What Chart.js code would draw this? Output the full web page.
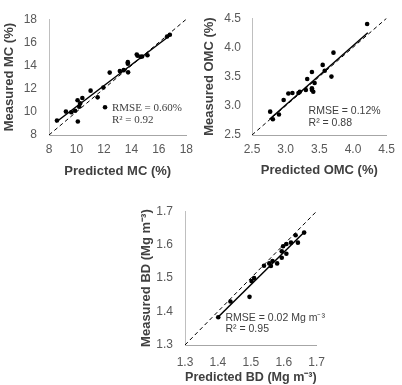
<!DOCTYPE html>
<html>
<head>
<meta charset="utf-8">
<script src="https://cdn.jsdelivr.net/npm/chart.js@4"></script>
<style>
  body { margin: 0; background: #fff; }
  #wrap { position: relative; width: 402px; height: 385px; }
  canvas { position: absolute; }
</style>
</head>
<body>
<div id="wrap">
  <canvas id="mcChart" width="200" height="190" style="left:0;top:0"></canvas>
  <canvas id="omcChart" width="202" height="190" style="left:200px;top:0"></canvas>
  <canvas id="bdChart" width="200" height="193" style="left:135px;top:192px"></canvas>
</div>
<script>
// Moisture content (MC)
const mcPred = [8.58, 9.23, 9.62, 9.9, 10.08, 10.1, 10.2, 10.27, 10.43, 11.03, 11.54, 11.96, 12.08, 12.42, 13.16, 13.44, 13.74, 13.74, 13.76, 14.39, 14.45, 14.67, 14.78, 15.17, 16.6, 16.8];
const mcMeas = [9.25, 10.02, 9.97, 10.1, 11.0, 9.17, 10.45, 10.73, 11.2, 11.83, 11.25, 12.1, 10.4, 13.39, 13.52, 13.6, 14.29, 14.15, 13.41, 14.95, 14.85, 14.75, 14.78, 14.89, 16.5, 16.66];
const mcTrendX = [8.5, 16.9];
const mcTrendY = [9.1, 16.68];
const mcTicks = [8, 10, 12, 14, 16, 18];

// Organic matter content (OMC)
const omcPred = [2.77, 2.81, 2.90, 2.97, 3.04, 3.10, 3.19, 3.21, 3.30, 3.32, 3.39, 3.39, 3.39, 3.41, 3.43, 3.55, 3.58, 3.68, 3.71, 4.21];
const omcMeas = [2.90, 2.77, 2.85, 3.10, 3.21, 3.22, 3.22, 3.24, 3.27, 3.46, 3.58, 3.30, 3.27, 3.24, 3.39, 3.70, 3.60, 3.50, 3.91, 4.40];
const omcTrendX = [2.76, 4.22];
const omcTrendY = [2.77, 4.25];
const omcTicks = [2.5, 3.0, 3.5, 4.0, 4.5];

// Bulk density (BD)
const bdPred = [1.401, 1.438, 1.496, 1.502, 1.51, 1.54, 1.556, 1.561, 1.566, 1.58, 1.594, 1.594, 1.598, 1.608, 1.608, 1.622, 1.636, 1.643, 1.662];
const bdMeas = [1.383, 1.43, 1.444, 1.491, 1.50, 1.537, 1.544, 1.536, 1.551, 1.544, 1.561, 1.58, 1.595, 1.573, 1.602, 1.606, 1.628, 1.606, 1.636];
const bdTrendX = [1.40, 1.665];
const bdTrendY = [1.383, 1.64];
const bdTicks = [1.3, 1.4, 1.5, 1.6, 1.7];

Chart.defaults.font.family = "'Liberation Sans', Arial, sans-serif";
Chart.defaults.color = '#595959';

function toPoints(xs, ys) {
    return xs.map(function(x, i) { return { x: x, y: ys[i] }; });
}

// draws the RMSE / R2 text at data coordinates
const statText = {
    id: 'statText',
    afterDatasetsDraw: function(chart, args, opts) {
        const ctx = chart.ctx;
        const xs = chart.scales.x, ys = chart.scales.y;
        ctx.save();
        ctx.font = opts.font;
        ctx.fillStyle = opts.color;
        ctx.textBaseline = 'middle';
        opts.lines.forEach(function(l) {
            ctx.fillText(l.text, xs.getPixelForValue(l.x), ys.getPixelForValue(l.y));
        });
        ctx.restore();
    }
};

function makePlot(id, o) {
    const lo = o.ticks[0], hi = o.ticks[o.ticks.length - 1];
    const ctx = document.getElementById(id).getContext('2d');
    return new Chart(ctx, {
        type: 'scatter',
        data: {
            datasets: [{
                data: toPoints(o.pred, o.meas),
                pointRadius: 2.3,
                pointBackgroundColor: '#000',
                pointBorderWidth: 0,
                showLine: false
            }, {
                data: toPoints(o.trendX, o.trendY),
                showLine: true,
                pointRadius: 0,
                borderColor: '#000',
                borderWidth: 1.5
            }, {
                data: toPoints([lo, hi], [lo, hi]),
                showLine: true,
                pointRadius: 0,
                borderColor: '#000',
                borderWidth: 1,
                borderDash: [4, 3]
            }]
        },
        options: {
            responsive: false,
            animation: false,
            devicePixelRatio: 1,
            layout: { padding: o.padding },
            plugins: {
                legend: { display: false },
                tooltip: { enabled: false },
                statText: { font: o.textFont, color: '#404040', lines: o.text }
            },
            scales: {
                x: {
                    min: lo, max: hi,
                    grid: { display: false, drawTicks: false },
                    border: { display: true, color: '#a6a6a6' },
                    ticks: {
                        padding: o.xTickPad,
                        font: { size: 12 },
                        maxRotation: 0,
                        callback: o.fmt
                    },
                    afterBuildTicks: function(s) { s.ticks = o.ticks.map(function(v) { return { value: v }; }); },
                    afterFit: function(s) { s.height = o.xHeight; },
                    title: {
                        display: true, text: o.xTitle, color: '#404040',
                        font: { size: 13, weight: 'bold' },
                        padding: { top: 0, bottom: o.xTitlePad }
                    }
                },
                y: {
                    min: lo, max: hi,
                    grid: { display: false, drawTicks: false },
                    border: { display: true, color: '#bfbfbf' },
                    ticks: {
                        padding: o.yTickPad,
                        font: { size: 12 },
                        callback: o.fmt
                    },
                    afterBuildTicks: function(s) { s.ticks = o.ticks.map(function(v) { return { value: v }; }); },
                    afterFit: function(s) { s.width = o.yWidth; },
                    title: {
                        display: true, text: o.yTitle, color: '#404040',
                        font: { size: 13, weight: 'bold' },
                        padding: { top: o.yTitlePad, bottom: 0 }
                    }
                }
            }
        },
        plugins: [statText]
    });
}

window.onload = function() {
    // MC panel
    makePlot('mcChart', {
        pred: mcPred, meas: mcMeas, trendX: mcTrendX, trendY: mcTrendY, ticks: mcTicks,
        fmt: function(v) { return v; },
        xTitle: 'Predicted MC (%)', yTitle: 'Measured MC (%)',
        padding: { top: 13, right: 7, bottom: 0, left: 0 },
        yWidth: 49, xHeight: 55, xTickPad: 7, yTickPad: 12, xTitlePad: 11, yTitlePad: 2,
        textFont: "11px 'Liberation Serif', 'Times New Roman', serif",
        text: [{ text: 'RMSE = 0.60%', x: 12.58, y: 10.3 }, { text: 'R\u00B2 = 0.92', x: 12.58, y: 9.31 }]
    });

    // OMC panel
    makePlot('omcChart', {
        pred: omcPred, meas: omcMeas, trendX: omcTrendX, trendY: omcTrendY, ticks: omcTicks,
        fmt: function(v) { return Number(v).toFixed(1); },
        xTitle: 'Predicted OMC (%)', yTitle: 'Measured OMC (%)',
        padding: { top: 13, right: 9, bottom: 0, left: 0 },
        yWidth: 52, xHeight: 55, xTickPad: 7, yTickPad: 11, xTitlePad: 12, yTitlePad: 2,
        textFont: "10.5px 'Liberation Sans', Arial, sans-serif",
        text: [{ text: 'RMSE = 0.12%', x: 3.34, y: 2.91 }, { text: 'R\u00B2 = 0.88', x: 3.34, y: 2.71 }]
    });

    // BD panel
    makePlot('bdChart', {
        pred: bdPred, meas: bdMeas, trendX: bdTrendX, trendY: bdTrendY, ticks: bdTicks,
        fmt: function(v) { return Number(v).toFixed(1); },
        xTitle: 'Predicted BD (Mg m\u207B\u00B3)', yTitle: 'Measured BD (Mg m\u207B\u00B3)',
        padding: { top: 15, right: 7, bottom: 0, left: 0 },
        yWidth: 50, xHeight: 40, xTickPad: 10, yTickPad: 12, xTitlePad: 0, yTitlePad: 4,
        textFont: "10.5px 'Liberation Sans', Arial, sans-serif",
        text: [{ text: 'RMSE = 0.02 Mg m\u207B\u00B3', x: 1.423, y: 1.381 }, { text: 'R\u00B2 = 0.95', x: 1.423, y: 1.349 }]
    });
};
</script>
</body>
</html>
